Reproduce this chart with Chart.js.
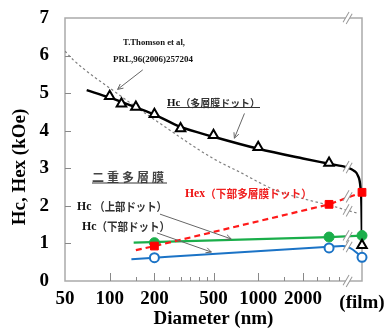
<!DOCTYPE html>
<html>
<head>
<meta charset="utf-8">
<script src="https://cdn.jsdelivr.net/npm/chart.js@4"></script>
<style>
  html, body { margin: 0; padding: 0; background: #fff; }
</style>
</head>
<body>
<canvas id="grafico" width="385" height="329"></canvas>
<script>
// eixos
const xTicks = [50, 100, 200, 500, 1000, 2000, 5000]
const xMinorTicks = [150, 250, 300, 350, 400, 450, 1500, 2500, 3000, 3500]
const yTicks = [0, 1, 2, 3, 4, 5, 6, 7]
const filmX = 5000
const breakX = 4000

// Hc (多層膜ドット) - triângulos e curva
const hcMultiX = [100, 120, 150, 200, 300, 500, 1000, 3000, filmX]
const hcMultiY = [4.92, 4.72, 4.63, 4.44, 4.06, 3.88, 3.56, 3.14, 0.95]
const hcMultiFitX = [70, 100, 150, 200, 300, 500, 1000, 2000, 3000, 4000, 4400, 4700, 4880, 4960, filmX]
const hcMultiFitY = [5.08, 4.88, 4.62, 4.43, 4.1, 3.84, 3.52, 3.26, 3.12, 3.02, 2.94, 2.8, 2.5, 2.0, 0.95]

// T.Thomson et al. (linha pontilhada)
const thomsonX = [50, 57, 108, 217, 492, 750, 1300, 2200, 3000, 3900, 4700]
const thomsonY = [6.12, 5.88, 5.04, 4.2, 3.27, 2.9, 2.42, 2.15, 2.02, 1.89, 1.8]

// Hex (下部多層膜ドット)
const hexX = [200, 3000, filmX]
const hexY = [0.93, 2.04, 2.36]
const hexLineX = [150, 200, 3000, filmX]
const hexLineY = [0.82, 0.93, 2.04, 2.36]

// Hc (上部ドット)
const hcUpperX = [200, 3000, filmX]
const hcUpperY = [1.02, 1.17, 1.21]
const hcUpperLineX = [145, 3000, filmX]
const hcUpperLineY = [1.02, 1.17, 1.21]

// Hc (下部ドット)
const hcLowerX = [200, 3000, filmX]
const hcLowerY = [0.62, 0.88, 0.63]
const hcLowerLineX = [140, 200, 3000, 3700, 4200, 4650, filmX]
const hcLowerLineY = [0.58, 0.62, 0.91, 0.93, 0.87, 0.74, 0.63]

// níveis das marcas de quebra (//)
const breakLevels = [7, 3.03, 2.25, 1.88, 1.19, 0.93, 0]

const serif = '"Liberation Serif", "Times New Roman", serif'
const cjk = '"Noto Sans CJK JP", sans-serif'

const pts = (xs, ys) => xs.map((x, i) => ({ x, y: ys[i] }))

function arrow(ctx, x1, y1, x2, y2, color) {
  ctx.save()
  ctx.strokeStyle = color
  ctx.lineWidth = 1
  ctx.beginPath(); ctx.moveTo(x1, y1); ctx.lineTo(x2, y2); ctx.stroke()
  const a = Math.atan2(y2 - y1, x2 - x1), h = 6
  ctx.beginPath()
  ctx.moveTo(x2 - h * Math.cos(a - 0.45), y2 - h * Math.sin(a - 0.45))
  ctx.lineTo(x2, y2)
  ctx.lineTo(x2 - h * Math.cos(a + 0.45), y2 - h * Math.sin(a + 0.45))
  ctx.stroke()
  ctx.restore()
}

function breakMark(ctx, x, y) {
  ctx.save()
  ctx.translate(x, y)
  ctx.rotate(-Math.PI / 3)
  ctx.fillStyle = '#fff'
  ctx.fillRect(-6, -1.8, 12, 3.6)
  ctx.strokeStyle = '#999'
  ctx.lineWidth = 1
  ctx.beginPath()
  ctx.moveTo(-6, -1.8); ctx.lineTo(6, -1.8)
  ctx.moveTo(-6, 1.8); ctx.lineTo(6, 1.8)
  ctx.stroke()
  ctx.restore()
}

// texto misto (Hc + japonês), ajustado a uma largura
function label(ctx, parts, x, y, w, underline) {
  let total = 0
  parts.forEach(p => {
    ctx.font = p.font
    ctx.letterSpacing = p.ls || '0px'
    p.w = ctx.measureText(p.text).width
    total += p.w
  })
  ctx.save()
  ctx.translate(x, y)
  ctx.scale(w / total, 1)
  ctx.textBaseline = 'middle'
  ctx.textAlign = 'left'
  let cx = 0
  parts.forEach(p => {
    ctx.font = p.font
    ctx.letterSpacing = p.ls || '0px'
    ctx.fillStyle = p.color || '#111'
    ctx.fillText(p.text, cx, 0)
    cx += p.w
  })
  ctx.letterSpacing = '0px'
  if (underline) {
    ctx.strokeStyle = '#333'
    ctx.lineWidth = 1
    ctx.beginPath(); ctx.moveTo(0, underline); ctx.lineTo(total, underline); ctx.stroke()
  }
  ctx.restore()
}

const decor = {
  id: 'decor',
  beforeDatasetsDraw(chart) {
    const { ctx, chartArea: a, scales: { x, y } } = chart
    ctx.save()
    ctx.strokeStyle = '#aaa'
    ctx.lineWidth = 1.5
    ctx.strokeRect(a.left, a.top, a.right - a.left, a.bottom - a.top)
    ctx.strokeStyle = '#888'
    ctx.lineWidth = 1
    ctx.beginPath()
    yTicks.slice(1, -1).forEach(v => {
      const py = Math.round(y.getPixelForValue(v)) + 0.5
      ctx.moveTo(a.left, py); ctx.lineTo(a.left + 6, py)
    })
    xTicks.slice(1, -1).forEach(v => {
      const px = Math.round(x.getPixelForValue(v)) + 0.5
      ctx.moveTo(px, a.bottom); ctx.lineTo(px, a.bottom - 8)
    })
    xMinorTicks.forEach(v => {
      const px = Math.round(x.getPixelForValue(v)) + 0.5
      ctx.moveTo(px, a.bottom); ctx.lineTo(px, a.bottom - 4)
    })
    ctx.stroke()
    ctx.restore()
  },
  afterDatasetsDraw(chart) {
    const { ctx, scales: { x, y } } = chart
    const bx = x.getPixelForValue(breakX)
    breakLevels.forEach(v => breakMark(ctx, bx, y.getPixelForValue(v)))

    const P = (vx, vy) => [x.getPixelForValue(vx), y.getPixelForValue(vy)]
    arrow(ctx, ...P(167, 5.62), ...P(113, 5.1), '#666')
    arrow(ctx, ...P(808, 4.46), ...P(691, 3.8), '#666')
    arrow(ctx, ...P(218, 1.78), ...P(658, 1.12), '#666')
    arrow(ctx, ...P(208, 1.28), ...P(484, 0.77), '#666')

    label(ctx, [{ text: 'T.Thomson et al,', font: 'bold 8.5px ' + serif }], 123, 43, 62)
    label(ctx, [{ text: 'PRL,96(2006)257204', font: 'bold 8.5px ' + serif }], 113, 60, 80)
    label(ctx, [
      { text: 'Hc', font: 'bold 11px ' + serif },
      { text: '（多層膜ドット）', font: 'bold 10px ' + cjk, color: '#333' }
    ], 167, 103, 93, 4.5)
    label(ctx, [{ text: '二重多層膜', font: 'bold 12px ' + cjk, ls: '3px', color: '#444' }], 92, 177, 75, 6)
    label(ctx, [
      { text: 'Hex', font: 'bold 12px ' + serif, color: '#ee1111' },
      { text: '（下部多層膜ドット）', font: 'bold 11px ' + cjk, color: '#f02020' }
    ], 185, 194, 127)
    label(ctx, [
      { text: 'Hc ', font: 'bold 13px ' + serif },
      { text: '（上部ドット）', font: 'bold 11.5px ' + cjk, color: '#333' }
    ], 77, 207, 90)
    label(ctx, [
      { text: 'Hc', font: 'bold 13px ' + serif },
      { text: '（下部ドット）', font: 'bold 11.5px ' + cjk, color: '#333' }
    ], 82, 227, 88)
  },
  afterDraw(chart) {
    const { ctx, scales: { x } } = chart
    ctx.save()
    ctx.fillStyle = '#000'
    ctx.font = 'bold 19px ' + serif
    ctx.textAlign = 'center'
    ctx.textBaseline = 'middle'
    ctx.fillText('(film)', x.getPixelForValue(filmX), 303)
    ctx.translate(20, 167)
    ctx.rotate(-Math.PI / 2)
    ctx.fillText('Hc, Hex (kOe)', 0, 0)
    ctx.restore()
  }
}

const lineDs = (xs, ys, color, extra) => Object.assign({
  data: pts(xs, ys), showLine: true, borderColor: color, borderWidth: 2.2,
  pointRadius: 0, fill: false, cubicInterpolationMode: 'monotone'
}, extra)

const pointDs = (xs, ys, style, r, fill, border, bw) => ({
  data: pts(xs, ys), showLine: false, pointStyle: style, pointRadius: r,
  pointBackgroundColor: fill, pointBorderColor: border, pointBorderWidth: bw,
  clip: false
})

const datasets = [
  pointDs(hcMultiX, hcMultiY, 'triangle', 5.5, '#fff', '#000', 2),
  pointDs(hexX, hexY, 'rect', 5.5, '#ff0000', '#ff0000', 1),
  pointDs(hcLowerX, hcLowerY, 'circle', 4.5, '#fff', '#1b73c6', 2),
  pointDs(hcUpperX, hcUpperY, 'circle', 5, '#1aae4a', '#1aae4a', 1),
  lineDs(hcMultiFitX, hcMultiFitY, '#000', { borderWidth: 2.4 }),
  lineDs(hexLineX, hexLineY, '#ff1a1a', { borderDash: [6, 4], cubicInterpolationMode: 'default', tension: 0 }),
  lineDs(hcLowerLineX, hcLowerLineY, '#1b73c6', { borderWidth: 2 }),
  lineDs(hcUpperLineX, hcUpperLineY, '#1aae4a', { tension: 0, cubicInterpolationMode: 'default' }),
  lineDs(thomsonX, thomsonY, '#808080', { borderWidth: 1.2, borderDash: [2.5, 2.5] })
]

const ctx = document.getElementById('grafico')

const graph = new Chart(ctx, {
  type: 'scatter',
  data: { datasets },
  options: {
    responsive: false,
    animation: false,
    layout: { padding: { top: 18, right: 23, left: 0, bottom: 0 } },
    plugins: { legend: { display: false }, tooltip: { enabled: false } },
    scales: {
      x: {
        type: 'logarithmic', min: 50, max: filmX,
        afterFit(s) { s.height = 48; s.paddingLeft = 0; s.paddingRight = 0 },
        afterBuildTicks(s) { s.ticks = xTicks.map(v => ({ value: v })) },
        grid: { display: false, drawTicks: false },
        border: { display: false },
        ticks: {
          autoSkip: false, maxRotation: 0, padding: 7, color: '#000',
          font: { family: serif, size: 19, weight: 'bold' },
          callback: v => v === filmX ? '' : String(v)
        },
        title: {
          display: true, text: 'Diameter (nm)', color: '#000', padding: 0,
          font: { family: serif, size: 19, weight: 'bold', lineHeight: 1 }
        }
      },
      y: {
        type: 'linear', min: 0, max: 7,
        afterFit(s) { s.width = 65; s.paddingTop = 0; s.paddingBottom = 0 },
        afterBuildTicks(s) { s.ticks = yTicks.map(v => ({ value: v })) },
        grid: { display: false, drawTicks: false },
        border: { display: false },
        ticks: { padding: 16, color: '#000', font: { family: serif, size: 19, weight: 'bold' } }
      }
    }
  },
  plugins: [decor]
})
</script>
</body>
</html>
